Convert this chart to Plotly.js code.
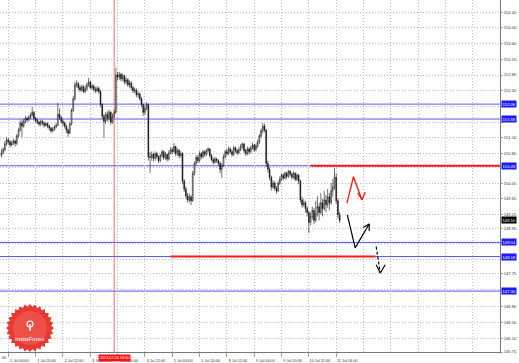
<!DOCTYPE html>
<html><head><meta charset="utf-8">
<script src="https://cdn.plot.ly/plotly-3.0.1.min.js"></script>
<style>html,body{margin:0;padding:0;background:#fff;}#chart{width:519px;height:363px;}</style>
</head><body><div id="chart"></div>
<script>
// Hourly bars, 1 Jul 00:00 (index 0) to 11 Jul 06:00 (index 198), weekend skipped
const open=[150.75,150.82,150.90,151.05,151.15,151.10,151.02,151.08,151.12,151.06,
151.25,151.40,151.58,151.50,151.62,151.70,151.66,151.72,151.78,151.85,
151.70,151.64,151.60,151.55,151.62,151.58,151.52,151.56,151.50,151.45,
151.38,151.42,151.48,151.52,151.80,151.72,151.62,151.58,151.50,151.40,
151.32,151.55,151.90,152.20,152.55,152.58,152.48,152.42,152.50,152.38,
152.45,152.55,152.62,152.48,152.52,152.44,152.40,152.46,152.38,152.05,
151.75,151.62,151.80,151.70,151.85,151.60,151.75,151.85,152.80,152.75,
152.82,152.70,152.78,152.62,152.68,152.55,152.60,152.48,152.40,152.42,
152.30,152.32,152.20,152.05,151.85,151.95,152.05,150.72,150.70,150.78,
150.68,150.80,150.72,150.62,150.75,150.85,150.70,150.78,150.66,150.82,
150.90,150.85,150.98,150.80,150.88,150.75,150.80,150.10,149.90,149.72,
149.62,149.70,149.60,150.30,150.55,150.70,150.62,150.80,150.72,150.85,
150.78,150.88,150.92,150.75,150.65,150.58,150.66,150.62,150.55,150.40,
150.50,150.72,150.85,150.80,150.92,150.85,150.78,150.95,150.88,150.82,
150.90,150.98,151.05,150.88,150.80,150.92,150.85,150.95,151.02,150.90,
151.00,151.10,151.25,151.38,151.50,151.40,150.55,150.40,150.20,149.95,
150.05,149.92,149.85,150.05,150.15,150.25,150.18,150.30,150.22,150.35,
150.28,150.20,150.30,150.15,150.25,150.10,149.62,149.50,149.55,149.40,
149.30,149.05,149.20,149.35,149.10,149.28,149.45,149.30,149.55,149.40,
149.62,149.50,149.70,149.55,149.85,149.95,150.20,149.60,149.25];
const high=[150.92,150.96,151.12,151.22,151.20,151.14,151.14,151.18,151.16,151.30,
151.46,151.64,151.66,151.68,151.76,151.74,151.78,151.84,151.99,151.88,
151.74,151.70,151.64,151.66,151.66,151.62,151.60,151.60,151.54,151.48,
151.48,151.52,151.58,152.09,151.95,151.76,151.68,151.62,151.54,151.44,
151.60,151.95,152.26,152.62,152.67,152.62,152.54,152.56,152.54,152.52,
152.60,152.72,152.66,152.58,152.56,152.50,152.52,152.50,152.42,152.08,
151.80,151.86,151.88,151.92,151.88,151.82,151.92,152.98,152.88,152.88,
152.86,152.84,152.80,152.74,152.72,152.66,152.64,152.52,152.48,152.46,
152.38,152.36,152.24,152.08,152.02,152.11,152.08,150.84,150.86,150.82,
150.86,150.84,150.76,150.80,150.90,150.88,150.84,150.80,150.88,150.96,
150.95,151.07,151.00,150.94,150.92,150.86,150.84,150.16,149.96,149.80,
149.78,149.74,150.36,150.60,150.76,150.76,150.86,150.84,150.90,150.88,
150.92,150.96,150.94,150.80,150.70,150.72,150.70,150.66,150.60,150.56,
150.78,150.90,150.92,150.98,150.96,150.90,151.00,150.98,150.92,150.96,
151.04,151.08,151.06,150.92,150.98,150.96,151.00,151.08,151.04,151.06,
151.16,151.30,151.44,151.58,151.56,151.42,150.62,150.46,150.24,150.12,
150.10,149.98,150.10,150.22,150.30,150.30,150.34,150.34,150.39,150.38,
150.32,150.35,150.33,150.30,150.28,150.14,149.70,149.64,149.60,149.46,
149.34,149.30,149.45,149.42,149.60,149.72,149.55,149.80,149.65,149.85,
149.75,149.90,149.80,150.05,150.15,150.43,150.30,149.66,149.32];
const low=[150.70,150.78,150.86,151.00,151.04,150.96,150.98,151.02,150.98,151.02,
151.20,151.36,151.22,151.46,151.56,151.60,151.62,151.68,151.74,151.64,
151.58,151.55,151.50,151.50,151.52,151.46,151.48,151.44,151.38,151.33,
151.34,151.38,151.44,151.50,151.66,151.56,151.50,151.44,151.32,151.22,
151.30,151.52,151.86,152.15,152.48,152.42,152.36,152.38,152.34,152.34,
152.40,152.50,152.44,152.42,152.38,152.34,152.36,152.32,151.98,151.68,
151.20,151.55,151.62,151.64,151.54,151.56,151.70,151.82,152.66,152.68,
152.64,152.64,152.56,152.56,152.50,152.48,152.42,152.34,152.34,152.24,
152.22,152.14,151.98,151.76,151.78,151.90,150.62,150.30,150.62,150.60,
150.62,150.66,150.56,150.58,150.70,150.64,150.64,150.60,150.62,150.78,
150.78,150.82,150.74,150.74,150.68,150.70,150.02,149.82,149.64,149.55,
149.56,149.49,149.58,150.24,150.50,150.56,150.58,150.66,150.68,150.72,
150.74,150.82,150.70,150.60,150.52,150.54,150.56,150.48,150.30,150.18,
150.46,150.68,150.74,150.76,150.80,150.72,150.74,150.82,150.76,150.78,
150.86,150.92,150.82,150.74,150.76,150.78,150.80,150.90,150.84,150.86,
150.94,151.04,151.20,151.32,151.34,150.46,150.32,150.12,149.86,149.90,
149.86,149.78,149.82,150.00,150.10,150.12,150.14,150.16,150.18,150.22,
150.14,150.16,150.10,150.10,150.02,149.55,149.42,149.44,149.30,149.20,
148.78,148.98,149.12,149.00,149.05,149.20,149.10,149.25,149.20,149.35,
149.30,149.42,149.35,149.50,149.70,149.88,149.52,149.15,149.04];
const close=[150.82,150.90,151.05,151.15,151.10,151.02,151.08,151.12,151.06,151.25,
151.40,151.58,151.50,151.62,151.70,151.66,151.72,151.78,151.85,151.70,
151.64,151.60,151.55,151.62,151.58,151.52,151.56,151.50,151.45,151.38,
151.42,151.48,151.52,151.80,151.72,151.62,151.58,151.50,151.40,151.32,
151.55,151.90,152.20,152.55,152.58,152.48,152.42,152.50,152.38,152.45,
152.55,152.62,152.48,152.52,152.44,152.40,152.46,152.38,152.05,151.75,
151.62,151.80,151.70,151.85,151.60,151.75,151.85,152.80,152.75,152.82,
152.70,152.78,152.62,152.68,152.55,152.60,152.48,152.40,152.42,152.30,
152.32,152.20,152.05,151.85,151.95,152.05,150.72,150.70,150.78,150.68,
150.80,150.72,150.62,150.75,150.85,150.70,150.78,150.66,150.82,150.90,
150.85,150.98,150.80,150.88,150.75,150.80,150.10,149.90,149.72,149.62,
149.70,149.60,150.30,150.55,150.70,150.62,150.80,150.72,150.85,150.78,
150.88,150.92,150.75,150.65,150.58,150.66,150.62,150.55,150.40,150.50,
150.72,150.85,150.80,150.92,150.85,150.78,150.95,150.88,150.82,150.90,
150.98,151.05,150.88,150.80,150.92,150.85,150.95,151.02,150.90,151.00,
151.10,151.25,151.38,151.50,151.40,150.55,150.40,150.20,149.95,150.05,
149.92,149.85,150.05,150.15,150.25,150.18,150.30,150.22,150.35,150.28,
150.20,150.30,150.15,150.25,150.10,149.62,149.50,149.55,149.40,149.30,
149.05,149.20,149.35,149.10,149.28,149.45,149.30,149.55,149.40,149.62,
149.50,149.70,149.55,149.85,149.95,150.20,149.60,149.25,149.10];

const tickIdx=[4,20,36,52,68,84,100,116,132,148,164,180,196];
const tickLabels=['1 Jul 04:00','1 Jul 20:00','2 Jul 12:00','3 Jul 04:00','3 Jul 20:00','4 Jul 12:00','5 Jul 04:00','5 Jul 20:00','8 Jul 12:00','9 Jul 04:00','9 Jul 20:00','10 Jul 12:00','11 Jul 04:00'];
const futureGridIdx=[212,228,244,260,276];
const yTicks=[154.40,154.00,153.60,153.20,152.80,152.40,152.00,151.60,151.20,150.80,150.45,150.05,149.65,149.25,148.90,148.50,148.10,147.75,147.35,146.90,146.50,146.10,145.75];
const yHidden=[152.00,151.60,150.45,148.50,148.10,147.35];
const blueLevels=[152.06,151.68,150.49,148.54,148.18,147.30];
const redLevels=[150.49,148.18];
const redStart=[181,99];
const redEnd=[292,219];
const currentPrice=149.10;
const vlineIdx=66;
const vlineLabel='2013.07.03 18:00';
const leftCutLabel='00';
// hand-drawn forecast arrows (bar index, price)
const redArrowX=[202.3,206.1,211.1,null,208.6,211.1,213.0];
const redArrowY=[149.54,150.21,149.62,null,149.80,149.62,149.82];
const blackArrowX=[202.5,207.1,215.3,null,211.8,215.3,215.3];
const blackArrowY=[149.24,148.40,149.01,null,148.92,149.01,148.83];
const dashArrowX=[219.4,221.8];
const dashArrowY=[148.43,147.76];
const dashHeadX=[219.4,221.8,224.7];
const dashHeadY=[147.97,147.76,147.97];

const W=519,H=363,M={l:0,r:19,t:0,b:11};
const PW=W-M.l-M.r,PH=H-M.t-M.b;
const px=x=>x/PW, py=y=>1-y/PH;
const FONT='Liberation Sans, Arial, sans-serif';
const GRID='#bdbdbd', GDASH='1px,2px';
const idx=close.map((_,i)=>i);

const traces=[{
  type:'candlestick',x:idx,open:open,high:high,low:low,close:close,
  increasing:{line:{color:'#111',width:0.6},fillcolor:'#fff'},
  decreasing:{line:{color:'#111',width:0.6},fillcolor:'#111'},
  whiskerwidth:0,hoverinfo:'skip',showlegend:false
}];
redLevels.forEach((v,i)=>traces.push({type:'scatter',mode:'lines',x:[redStart[i],redEnd[i]],y:[v,v],
  line:{color:'#ff1a1a',width:2},hoverinfo:'skip',showlegend:false}));
traces.push({type:'scatter',mode:'lines',x:redArrowX,y:redArrowY,line:{color:'#ff2020',width:1.4},hoverinfo:'skip',showlegend:false,connectgaps:false});
traces.push({type:'scatter',mode:'lines',x:blackArrowX,y:blackArrowY,line:{color:'#000',width:1.2},hoverinfo:'skip',showlegend:false,connectgaps:false});
traces.push({type:'scatter',mode:'lines',x:dashArrowX,y:dashArrowY,line:{color:'#000',width:1.2,dash:'3px,2px'},hoverinfo:'skip',showlegend:false});
traces.push({type:'scatter',mode:'lines',x:dashHeadX,y:dashHeadY,line:{color:'#000',width:1.2},hoverinfo:'skip',showlegend:false});

const shapes=[];
blueLevels.forEach(v=>shapes.push({type:'line',xref:'paper',x0:0,x1:1,yref:'y',y0:v,y1:v,
  line:{color:'#5555ff',width:1},layer:'below'}));
shapes.push({type:'line',xref:'x',x0:vlineIdx,x1:vlineIdx,yref:'paper',y0:0,y1:1,
  line:{color:'rgba(255,70,70,0.8)',width:1},layer:'below'});

// InstaForex badge (decoration)
const cx=30,cy=328,ro=24,ri=21.3,n=28;
let d='';
for(let k=0;k<2*n;k++){const a=Math.PI*k/n;const r=k%2?ri:ro;
  const X=cx+r*Math.cos(a),Y=cy+r*Math.sin(a);d+=(k?'L':'M')+px(X).toFixed(4)+','+py(Y).toFixed(4);}
d+='Z';
shapes.push({type:'path',xref:'paper',yref:'paper',path:d,fillcolor:'#e63a33',line:{width:0},layer:'above'});
shapes.push({type:'circle',xref:'paper',yref:'paper',x0:px(cx-17),x1:px(cx+17),y0:py(cy+17),y1:py(cy-17),fillcolor:'#ee5048',line:{width:0},layer:'above'});
shapes.push({type:'circle',xref:'paper',yref:'paper',x0:px(cx-3),x1:px(cx+3),y0:py(cy-1),y1:py(cy-7),fillcolor:'rgba(0,0,0,0)',line:{color:'#fff',width:1.2},layer:'above'});
shapes.push({type:'line',xref:'paper',yref:'paper',x0:px(cx),x1:px(cx),y0:py(cy-4),y1:py(cy+3),line:{color:'#fff',width:1.5},layer:'above'});

const annotations=[];
blueLevels.forEach(v=>annotations.push({xref:'paper',x:1,xanchor:'left',xshift:1,yref:'y',y:v,yanchor:'middle',
  text:v.toFixed(2),showarrow:false,bgcolor:'#1a1aff',borderpad:0.6,font:{family:FONT,size:4.1,color:'#fff'}}));
annotations.push({xref:'paper',x:1,xanchor:'left',xshift:1,yref:'y',y:currentPrice,yanchor:'middle',
  text:currentPrice.toFixed(2),showarrow:false,bgcolor:'#000',borderpad:0.6,font:{family:FONT,size:4.1,color:'#fff'}});
annotations.push({xref:'x',x:vlineIdx,xanchor:'center',yref:'paper',y:py(357.5),yanchor:'middle',
  text:vlineLabel,showarrow:false,bgcolor:'#ff1010',borderpad:0.8,font:{family:FONT,size:3.8,color:'#fff'}});
annotations.push({xref:'paper',x:0,xanchor:'left',yref:'paper',y:py(357.5),yanchor:'middle',
  text:leftCutLabel,showarrow:false,font:{family:FONT,size:3.8,color:'#333'}});
annotations.push({xref:'paper',x:px(cx),xanchor:'center',yref:'paper',y:py(338),yanchor:'middle',
  text:'InstaForex',showarrow:false,font:{family:FONT,size:6.2,color:'#fff'}});

const layout={
  width:W,height:H,margin:M,paper_bgcolor:'#fff',plot_bgcolor:'#fff',showlegend:false,hovermode:false,
  xaxis:{type:'linear',range:[-0.86,291.9],rangeslider:{visible:false},fixedrange:true,
    tickmode:'array',tickvals:tickIdx,ticktext:tickLabels,ticks:'outside',ticklen:4,tickwidth:0.6,tickcolor:'#666',
    ticklabelshift:11,tickfont:{family:FONT,size:3.8,color:'#333'},
    showgrid:true,gridcolor:GRID,griddash:GDASH,gridwidth:1,
    showline:true,linecolor:'#777',linewidth:1,zeroline:false,
    minor:{tickmode:'array',tickvals:futureGridIdx,showgrid:true,gridcolor:GRID,griddash:GDASH,gridwidth:1,ticks:''}},
  yaxis:{side:'right',range:[145.75,154.71],fixedrange:true,
    tickmode:'array',tickvals:yTicks,ticktext:yTicks.map(v=>yHidden.includes(v)?'':v.toFixed(2)),
    ticks:'outside',ticklen:2,tickwidth:0.6,tickcolor:'#666',
    tickfont:{family:FONT,size:4.1,color:'#333'},
    showgrid:true,gridcolor:GRID,griddash:GDASH,gridwidth:1,
    showline:true,linecolor:'#777',linewidth:1,zeroline:false},
  shapes:shapes,annotations:annotations
};
Plotly.newPlot('chart',traces,layout,{displayModeBar:false,staticPlot:true});
</script></body></html>
